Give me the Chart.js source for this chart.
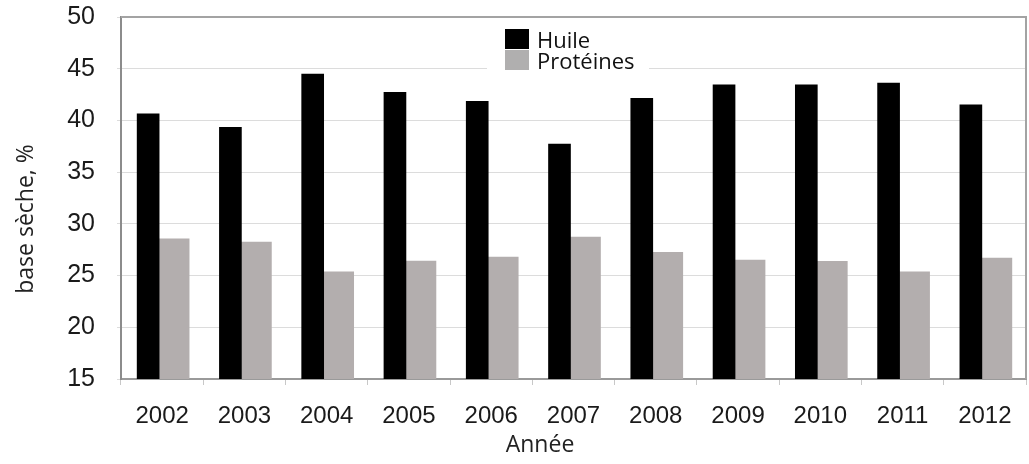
<!DOCTYPE html>
<html>
<head>
<meta charset="utf-8">
<script src="https://cdn.jsdelivr.net/npm/chart.js@4.4.1/dist/chart.umd.min.js"></script>
<style>
  html, body { margin: 0; padding: 0; background: #ffffff; }
  #wrap { width: 1029px; height: 464px; }
</style>
</head>
<body>
<div id="wrap"><canvas id="c" width="1029" height="464"></canvas></div>
<script>
// Years on the category axis
const years = ['2002', '2003', '2004', '2005', '2006', '2007', '2008', '2009', '2010', '2011', '2012'];
// Oil content (% dry basis)
const huile = [40.65, 39.33, 44.49, 42.71, 41.84, 37.72, 42.13, 43.45, 43.45, 43.62, 41.52];
// Protein content (% dry basis)
const proteines = [28.56, 28.24, 25.37, 26.4, 26.79, 28.72, 27.24, 26.5, 26.37, 25.37, 26.69];
// Value axis ticks
const yTicks = [15, 20, 25, 30, 35, 40, 45, 50];

const seriesNames = ['Huile', 'Protéines'];
const axisTitleX = 'Année';
const axisTitleY = 'base sèche, %';

const textFont = '"Open Sans", "DejaVu Sans", sans-serif';
const tickFont = '"Liberation Sans", Arial, sans-serif';

// Nudges each bar pair slightly left so the pair sits centred on its year
const pairShift = {
  id: 'pairShift',
  afterDatasetsUpdate(chart) {
    chart.data.datasets.forEach((ds, i) => {
      chart.getDatasetMeta(i).data.forEach(el => { el.x -= 3; });
    });
  }
};

// Frame around the plotting area
const frame = {
  id: 'frame',
  beforeDatasetsDraw(chart) {
    const { ctx, chartArea: a } = chart;
    ctx.save();
    ctx.strokeStyle = '#a3a3a3';
    ctx.lineWidth = 2;
    ctx.beginPath();
    ctx.moveTo(a.left, a.top);
    ctx.lineTo(a.right, a.top);
    ctx.lineTo(a.right, a.bottom);
    ctx.stroke();
    ctx.restore();
  }
};

// Legend box inside the plot, plus the two axis titles
const annotations = {
  id: 'annotations',
  afterDatasetsDraw(chart) {
    const { ctx, chartArea: a } = chart;
    ctx.save();
    // white backing behind the legend
    ctx.fillStyle = '#ffffff';
    ctx.fillRect(a.left + 366, a.top + 7, 162, 55);
    ctx.font = '22px ' + textFont;
    ctx.textAlign = 'left';
    ctx.textBaseline = 'alphabetic';
    chart.data.datasets.forEach((ds, i) => {
      const yTop = a.top + 12 + i * 21;
      ctx.fillStyle = ds.legendColor;
      ctx.fillRect(a.left + 384, yTop, 24, 20);
      ctx.fillStyle = '#111111';
      ctx.fillText(ds.label, a.left + 416, yTop + 19);
    });
    ctx.restore();
  },
  afterDraw(chart) {
    const { ctx } = chart;
    ctx.save();
    ctx.fillStyle = '#222222';
    ctx.font = '23px ' + textFont;
    ctx.textAlign = 'center';
    ctx.textBaseline = 'alphabetic';
    ctx.fillText(axisTitleX, 540, 452);
    ctx.translate(33, 219);
    ctx.rotate(-Math.PI / 2);
    ctx.fillText(axisTitleY, 0, 0);
    ctx.restore();
  }
};

new Chart(document.getElementById('c'), {
  type: 'bar',
  data: {
    labels: years,
    datasets: [
      {
        label: seriesNames[0],
        data: huile,
        backgroundColor: '#000000',
        legendColor: '#000000',
        barThickness: 22
      },
      {
        label: seriesNames[1],
        data: proteines,
        backgroundColor: '#b3aeae',
        legendColor: '#b0afaf',
        barThickness: 30
      }
    ]
  },
  options: {
    responsive: false,
    animation: false,
    devicePixelRatio: 1,
    layout: { padding: { top: 17, right: 3, left: 0, bottom: 0 } },
    plugins: {
      legend: { display: false },
      tooltip: { enabled: false },
      title: { display: false }
    },
    scales: {
      x: {
        afterFit(scale) {
          scale.height = 85;
          scale.paddingLeft = 0;
          scale.paddingRight = 0;
        },
        grid: {
          display: true,
          drawOnChartArea: false,
          drawTicks: true,
          tickLength: 6,
          color: '#c8c8c8'
        },
        border: { display: true, color: '#9a9a9a', width: 2 },
        ticks: {
          color: '#1a1a1a',
          font: { family: tickFont, size: 24 },
          padding: 17,
          maxRotation: 0
        }
      },
      y: {
        min: 15,
        max: 50,
        afterFit(scale) {
          scale.width = 121;
          scale.paddingTop = 0;
          scale.paddingBottom = 0;
        },
        afterBuildTicks(scale) { scale.ticks = yTicks.map(v => ({ value: v })); },
        grid: {
          color: '#dcdcdc',
          lineWidth: 1,
          tickLength: 4
        },
        border: { display: true, color: '#8c8c8c', width: 2 },
        ticks: {
          color: '#1a1a1a',
          font: { family: tickFont, size: 25 },
          padding: 22
        }
      }
    }
  },
  plugins: [pairShift, frame, annotations]
});
</script>
</body>
</html>
